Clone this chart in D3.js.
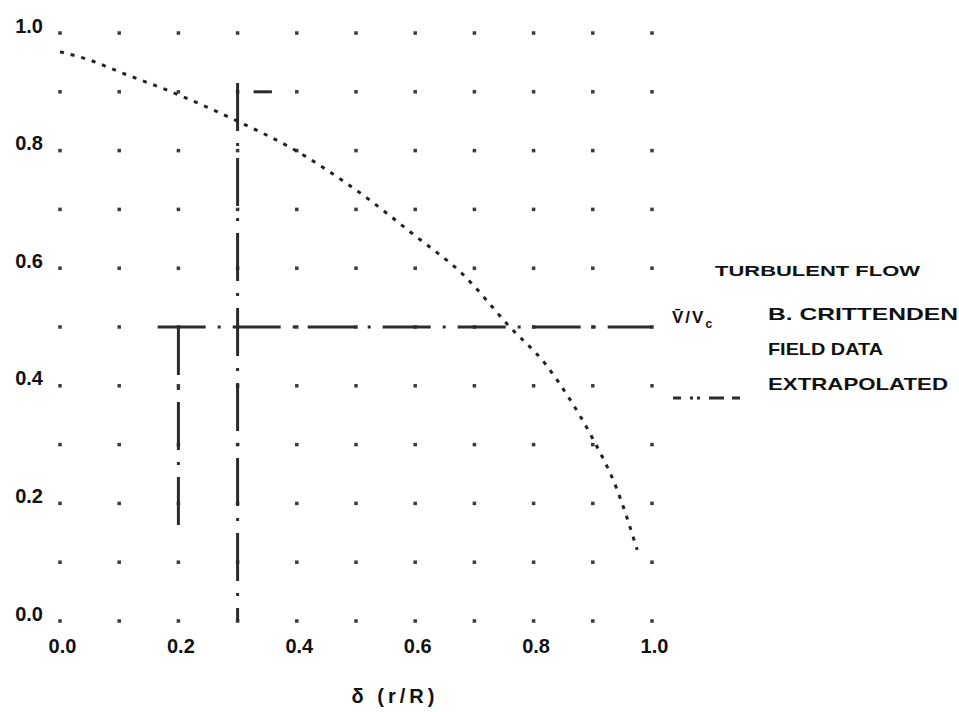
<!DOCTYPE html>
<html>
<head>
<meta charset="utf-8">
<script src="https://cdn.jsdelivr.net/npm/d3@7"></script>
<style>
  body { margin: 0; background: #fff; }
  svg { font-family: "Liberation Sans", Arial, sans-serif; }
</style>
</head>
<body>
<div id="chart"></div>
<script>
// values
var gridVals = [0, 0.1, 0.2, 0.3, 0.4, 0.5, 0.6, 0.7, 0.8, 0.9, 1.0];
var xTicks = [0, 0.2, 0.4, 0.6, 0.8, 1.0];
var yTicks = [0, 0.2, 0.4, 0.6, 0.8, 1.0];

// B. Crittenden field data (dotted curve)
var fieldX = [0, 0.05, 0.1, 0.2, 0.3, 0.4, 0.5, 0.6, 0.68, 0.76, 0.82, 0.86, 0.9, 0.94, 0.975];
var fieldY = [0.968, 0.954, 0.934, 0.895, 0.85, 0.799, 0.733, 0.655, 0.59, 0.5, 0.437, 0.379, 0.31, 0.226, 0.121];

// extrapolated segments [x1, y1, x2, y2]
var extraSegs = [
  [0.165, 0.5, 1.0, 0.5],
  [0.2, 0.5, 0.2, 0.16],
  [0.3, 0.915, 0.3, 0.0],
  [0.327, 0.9, 0.358, 0.9]
];

var legendTitle = "TURBULENT FLOW";
var legendItems = ["B. CRITTENDEN", "FIELD DATA", "EXTRAPOLATED"];
var xTitle = "δ (r/R)";

var width = 959, height = 712;
var ink = "#2b2b2b";

var svg = d3.select("#chart").append("svg")
  .attr("width", width)
  .attr("height", height);

var x = d3.scaleLinear().domain([0, 1]).range([60, 652]);
var y = d3.scaleLinear().domain([0, 1]).range([621, 33]);

// dotted grid: only the crossings are marked
var crossings = [];
gridVals.forEach(function(gx) {
  gridVals.forEach(function(gy) { crossings.push([gx, gy]); });
});
svg.append("g").selectAll("rect")
  .data(crossings)
  .enter().append("rect")
  .attr("x", function(d) { return x(d[0]) - 1.75; })
  .attr("y", function(d) { return y(d[1]) - 1.75; })
  .attr("width", 3.5)
  .attr("height", 3.5)
  .attr("fill", "#3a3a3a");

// extrapolated lines
svg.append("g").selectAll("line")
  .data(extraSegs)
  .enter().append("line")
  .attr("x1", function(d) { return x(d[0]); })
  .attr("y1", function(d) { return y(d[1]); })
  .attr("x2", function(d) { return x(d[2]); })
  .attr("y2", function(d) { return y(d[3]); })
  .attr("stroke", ink)
  .attr("stroke-width", 3)
  .attr("stroke-dasharray", "48,12,3,12");

// field data curve
var field = fieldX.map(function(v, i) { return [v, fieldY[i]]; });
var line = d3.line()
  .x(function(d) { return x(d[0]); })
  .y(function(d) { return y(d[1]); })
  .curve(d3.curveMonotoneX);

svg.append("path")
  .datum(field)
  .attr("d", line)
  .attr("fill", "none")
  .attr("stroke", "#222")
  .attr("stroke-width", 3)
  .attr("stroke-dasharray", "4,7");

// axes, tick labels only
var xAxis = svg.append("g")
  .attr("transform", "translate(0," + y(0) + ")")
  .call(d3.axisBottom(x).tickValues(xTicks).tickFormat(d3.format(".1f")).tickSize(0).tickPadding(18));
var yAxis = svg.append("g")
  .attr("transform", "translate(" + x(0) + ",0)")
  .call(d3.axisLeft(y).tickValues(yTicks).tickFormat(d3.format(".1f")).tickSize(0).tickPadding(17));

[xAxis, yAxis].forEach(function(ax) {
  ax.select(".domain").remove();
  ax.selectAll("text")
    .attr("fill", "#111")
    .style("font-family", "'Liberation Sans', Arial, sans-serif")
    .style("font-size", "20px")
    .style("font-weight", "bold");
});
yAxis.selectAll("text").attr("dy", "-0.05em");
xAxis.selectAll("text").attr("dx", 2);

svg.append("text")
  .attr("x", 395)
  .attr("y", 703)
  .attr("text-anchor", "middle")
  .attr("fill", "#111")
  .style("font-size", "20px")
  .style("font-weight", "bold")
  .style("letter-spacing", "4px")
  .text(xTitle);

// label at the end of the horizontal line
var vLab = svg.append("text")
  .attr("x", 672)
  .attr("y", 323)
  .attr("fill", "#111")
  .style("font-size", "17px")
  .style("font-weight", "bold")
  .style("letter-spacing", "2px");
vLab.append("tspan").text("V̄/V");
vLab.append("tspan").attr("dy", 5).style("font-size", "12px").text("c");

// legend
svg.append("text")
  .attr("x", 715)
  .attr("y", 276)
  .attr("fill", "#111")
  .attr("textLength", 205)
  .attr("lengthAdjust", "spacingAndGlyphs")
  .style("font-size", "15px")
  .style("font-weight", "bold")
  .text(legendTitle);

var itemY = [320, 355, 390];
var itemW = [190, 115, 180];
svg.append("g").selectAll("text")
  .data(legendItems)
  .enter().append("text")
  .attr("x", 768)
  .attr("y", function(d, i) { return itemY[i]; })
  .attr("fill", "#111")
  .attr("textLength", function(d, i) { return itemW[i]; })
  .attr("lengthAdjust", "spacingAndGlyphs")
  .style("font-size", "17px")
  .style("font-weight", "bold")
  .text(function(d) { return d; });

svg.append("line")
  .attr("x1", 673).attr("y1", 398)
  .attr("x2", 746).attr("y2", 398)
  .attr("stroke", ink)
  .attr("stroke-width", 3)
  .attr("stroke-dasharray", "8,9,3,4,3,9,15,8");
</script>
</body>
</html>
